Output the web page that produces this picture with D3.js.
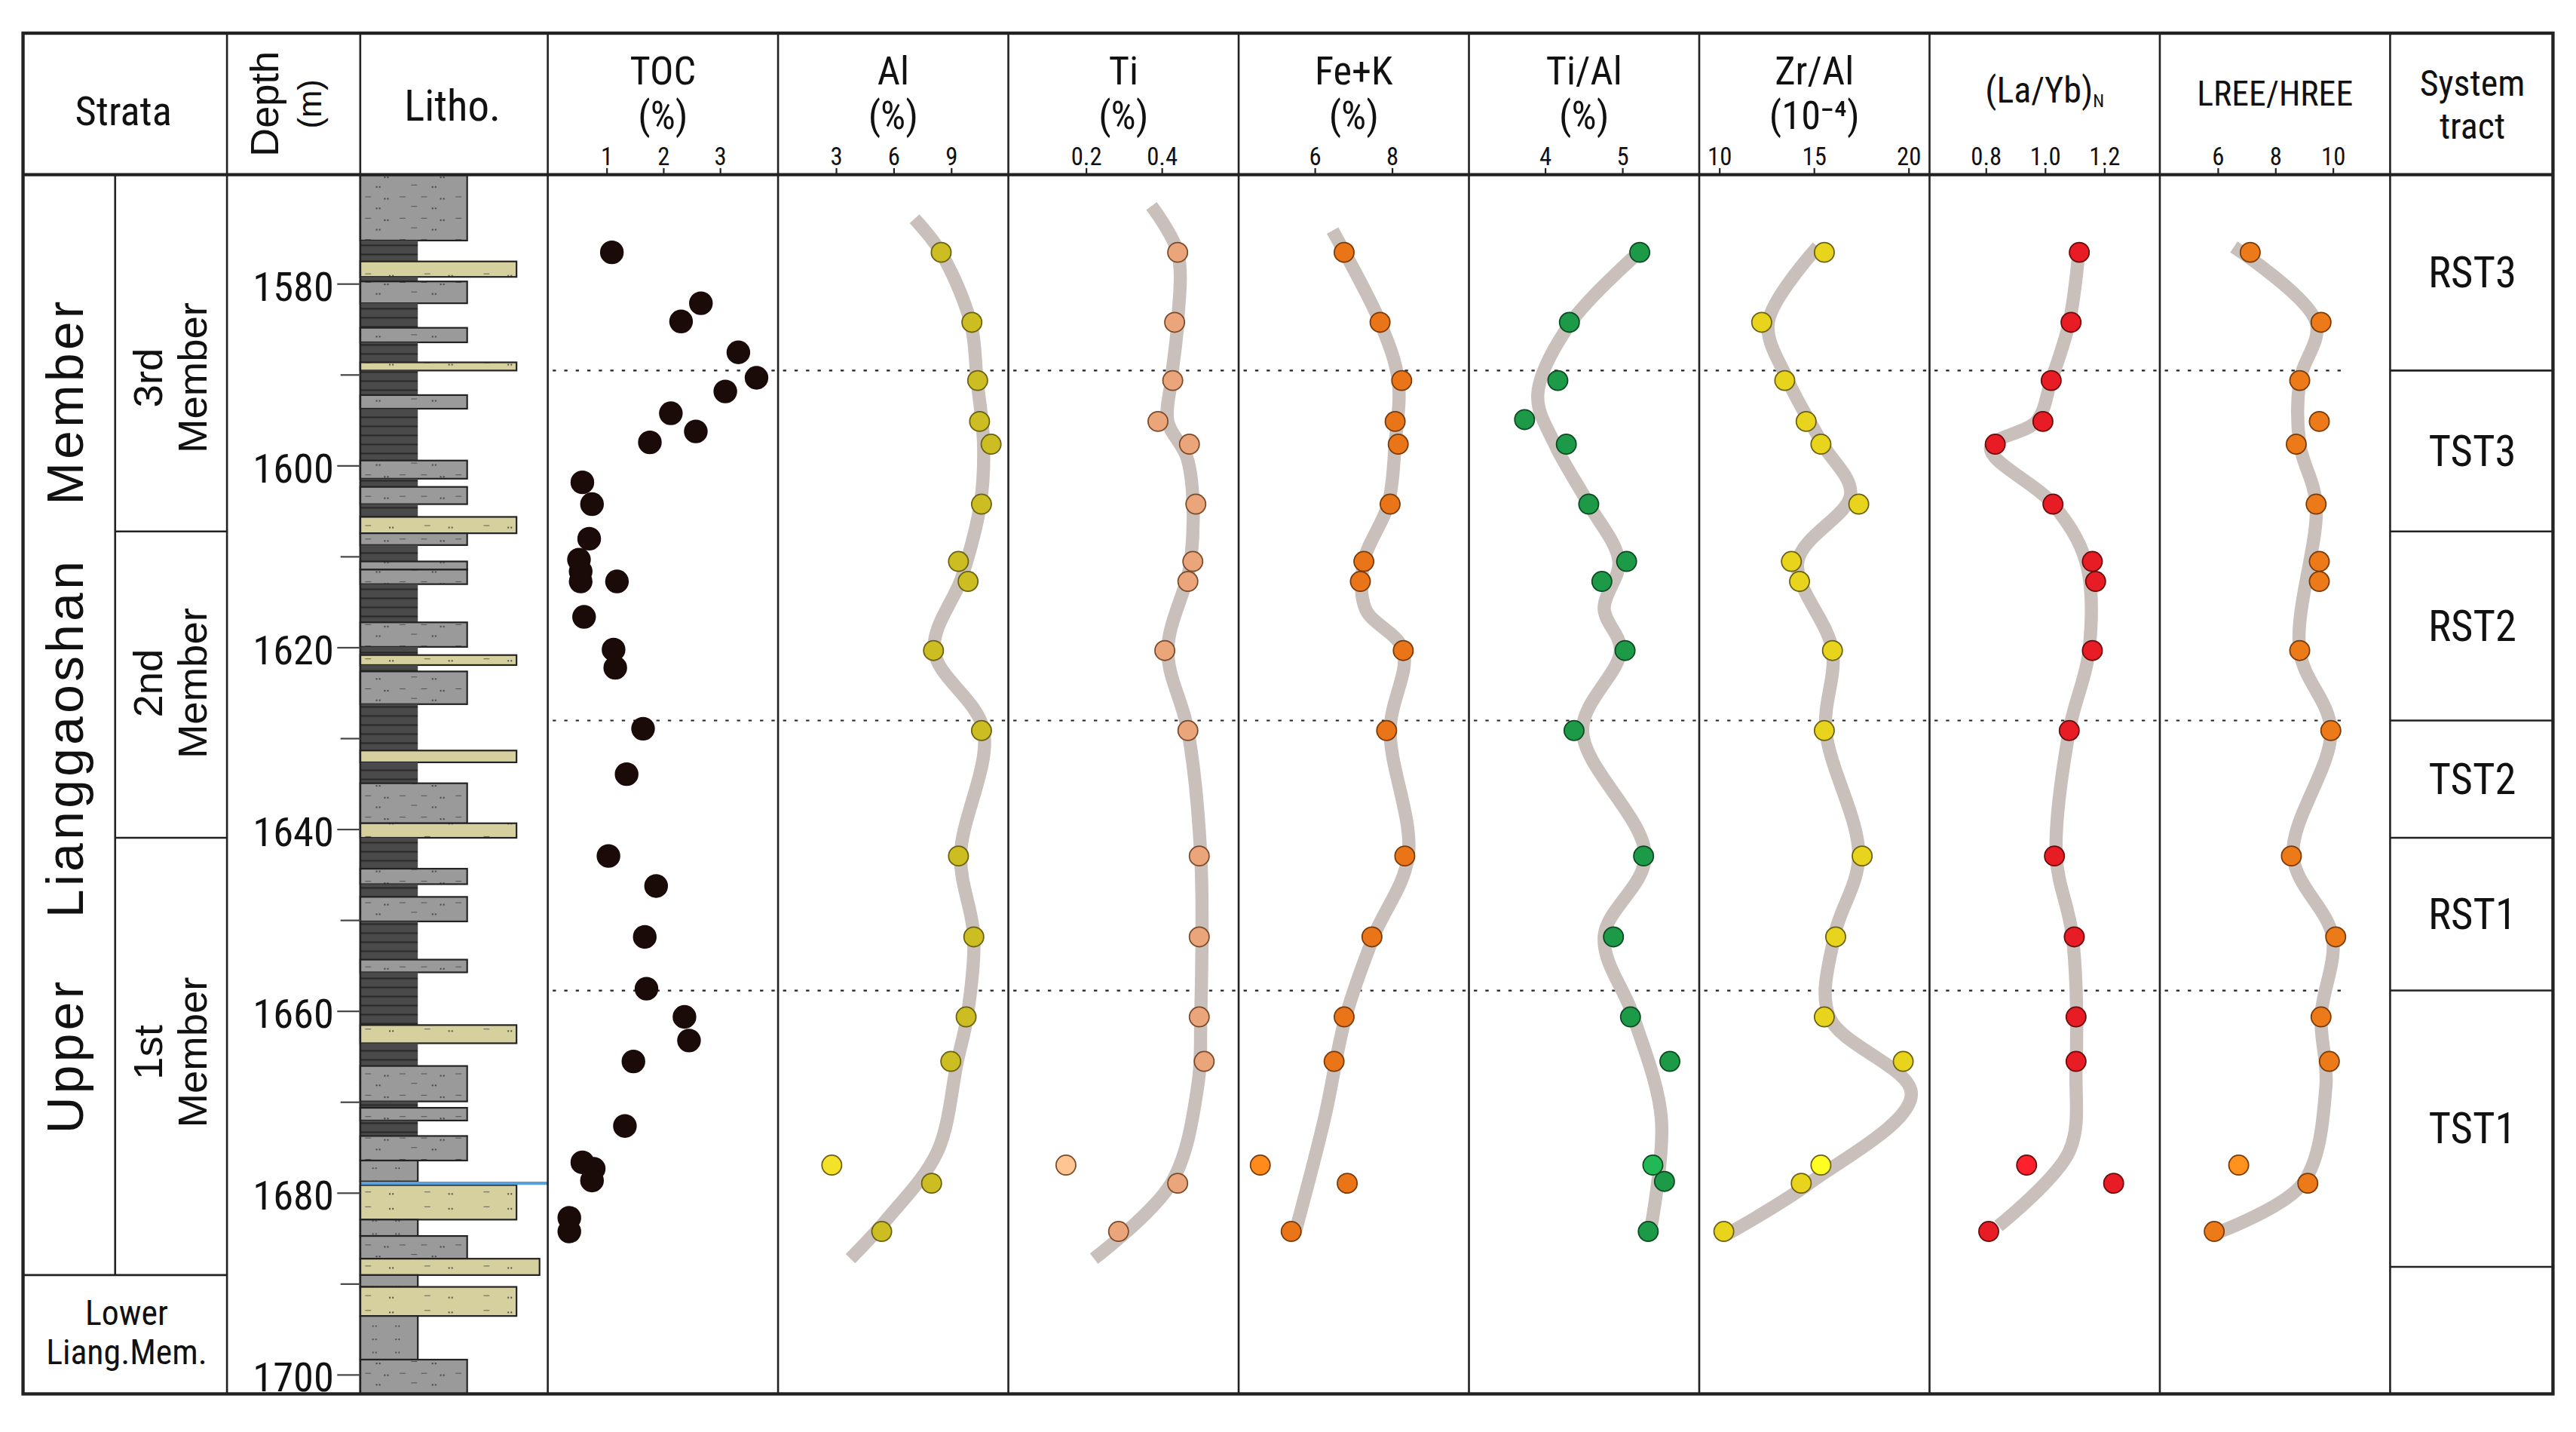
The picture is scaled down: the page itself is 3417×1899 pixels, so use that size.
<!DOCTYPE html>
<html><head><meta charset="utf-8">
<script src="https://cdn.jsdelivr.net/npm/d3@7"></script>
<style>body{margin:0;background:#fff}svg{display:block}</style>
</head><body>
<svg id="c" width="3417" height="1899" viewBox="0 0 1566 870"></svg>
<script>
// ---------- data ----------
const sampleDepths=[1576.6,1584.3,1590.7,1595.2,1597.7,1604.3,1610.6,1612.8,1620.4,1629.2,1643.0,1651.9,1660.7,1665.6,1677.0,1679.0,1684.3];
const alVals=[8.5,10.1,10.4,10.5,11.1,10.6,9.4,9.9,8.1,10.6,9.4,10.2,9.8,9.0,2.8,8.0,5.4];
const tiVals=[0.443,0.435,0.43,0.391,0.474,0.491,0.483,0.47,0.409,0.47,0.5,0.5,0.5,0.513,0.148,0.443,0.287];
const fekVals=[6.77,7.70,8.26,8.09,8.17,7.96,7.28,7.19,8.30,7.87,8.34,7.49,6.77,6.51,4.60,6.85,5.40];
const tialDepths=[1576.6,1584.3,1590.7,1595.0,1597.7,1604.3,1610.6,1612.8,1620.4,1629.2,1643.0,1651.9,1660.7,1665.6,1677.0,1678.8,1684.3];
const tialVals=[5.23,4.32,4.17,3.74,4.28,4.57,5.06,4.74,5.04,4.38,5.28,4.89,5.11,5.62,5.40,5.55,5.34];
const zralVals=[15.57,12.26,13.48,14.61,15.39,17.39,13.83,14.26,16.0,15.57,17.57,16.17,15.57,19.74,15.39,14.35,10.26];
const laybVals=[1.117,1.089,1.022,0.994,0.833,1.028,1.161,1.172,1.161,1.083,1.033,1.1,1.106,1.106,0.939,1.233,0.811];
const lreeVals=[7.14,9.6,8.86,9.54,8.74,9.43,9.54,9.54,8.86,9.94,8.57,10.11,9.6,9.89,6.74,9.14,5.89];

const tocDepths=[1576.6,1582.2,1584.2,1587.6,1590.4,1591.9,1594.3,1596.3,1597.5,1601.9,1604.3,1608.1,1610.4,1611.7,1612.8,1612.8,1616.7,1620.3,1622.3,1629.0,1634.0,1643.0,1646.3,1651.9,1657.6,1660.7,1663.3,1665.6,1672.7,1676.7,1677.4,1678.7,1682.8,1684.3];
const tocVals=[1.10,2.67,2.32,3.33,3.65,3.10,2.14,2.58,1.77,0.58,0.75,0.70,0.52,0.55,0.55,1.19,0.61,1.13,1.16,1.65,1.36,1.04,1.88,1.68,1.71,2.38,2.46,1.48,1.33,0.58,0.78,0.75,0.35,0.35];

const alTrendD=[1572.9,1576.6,1584.3,1590.7,1597.7,1604.3,1612.2,1620.4,1629.2,1643.0,1651.9,1660.7,1665.6,1675.5,1682.8,1687.3];
const alTrendV=[7.11,8.48,10.03,10.37,10.71,10.54,9.60,8.14,10.71,9.51,10.20,9.85,9.34,8.31,5.74,3.77];
const tiTrendD=[1571.5,1576.6,1584.3,1590.7,1595.2,1599.5,1610.4,1620.4,1629.2,1643.0,1660.7,1668.3,1679.0,1687.3];
const tiTrendV=[0.374,0.443,0.443,0.426,0.417,0.470,0.478,0.417,0.470,0.504,0.504,0.496,0.426,0.222];
const fekTrendD=[1574.2,1584.3,1590.7,1597.7,1604.3,1610.6,1615.8,1620.4,1629.2,1643.0,1651.9,1660.7,1671.9,1684.6];
const fekTrendV=[6.47,7.70,8.17,8.09,7.91,7.28,7.32,8.30,7.96,8.43,7.53,6.81,6.26,5.49];
const tialTrendD=[1576.0,1584.3,1592.3,1597.7,1604.3,1610.6,1615.8,1620.4,1629.2,1643.0,1651.9,1660.7,1671.9,1684.6];
const tialTrendV=[5.30,4.34,3.91,4.13,4.57,4.96,4.77,4.98,4.49,5.30,4.77,5.15,5.51,5.36];
const zralTrendD=[1576.0,1584.3,1590.7,1597.7,1603.2,1610.6,1620.4,1629.2,1643.0,1651.9,1660.7,1669.2,1679.0,1684.6];
const zralTrendV=[15.22,12.61,13.65,15.48,16.96,14.17,16.0,15.65,17.39,16.09,15.83,20.17,14.78,10.43];
const laybTrendD=[1576.0,1584.3,1590.7,1595.2,1598.1,1604.3,1610.6,1620.4,1629.2,1643.0,1651.9,1666.5,1675.5,1683.7];
const laybTrendV=[1.117,1.083,1.022,0.972,0.817,1.028,1.139,1.15,1.083,1.039,1.094,1.106,1.083,0.844];
const lreeTrendD=[1576.0,1584.3,1590.7,1597.7,1604.3,1620.4,1629.2,1643.0,1651.9,1660.7,1668.3,1679.0,1684.3];
const lreeTrendV=[6.57,9.43,8.86,8.86,9.43,8.86,9.94,8.63,10.0,9.6,9.77,8.97,6.11];

const columnTitles=[["TOC","(%)"],["Al","(%)"],["Ti","(%)"],["Fe+K","(%)"],["Ti/Al","(%)"],["Zr/Al","(10⁻⁴)"],["(La/Yb)N",""],["LREE/HREE",""]];
const tickLabels=[[1,2,3],[3,6,9],[0.2,0.4],[6,8],[4,5],[10,15,20],[0.8,1.0,1.2],[6,8,10]];
const tickText=[["1","2","3"],["3","6","9"],["0.2","0.4"],["6","8"],["4","5"],["10","15","20"],["0.8","1.0","1.2"],["6","8","10"]];
const domains=[[-0.03,4.03],[0,12],[-0.004,0.604],[4.04,10.0],[3.02,6.0],[8.96,21.13],[0.611,1.389],[4,12]];

const tracts=["RST3","TST3","RST2","TST2","RST1","TST1",""];
const tractTops=[1568.1,1589.6,1607.3,1628.1,1641.0,1657.8,1688.2];
const tractBottoms=[1589.6,1607.3,1628.1,1641.0,1657.8,1688.2,1702.2];
const dottedDepths=[1589.6,1628.1,1657.8];
const depthTicks=[1580,1600,1620,1640,1660,1680,1700];
const minorTicks=[1590,1610,1630,1650,1670,1690];

// litho: top, bottom, type, grain size
const lithoTop=[1568.1,1575.3,1577.6,1579.3,1579.8,1582.2,1584.9,1586.5,1588.7,1589.6,1592.3,1593.8,1599.5,1601.5,1602.4,1604.3,1605.7,1607.5,1608.8,1610.6,1611.5,1613.1,1617.3,1620.0,1620.9,1622.0,1622.7,1626.3,1631.4,1632.7,1635.0,1639.4,1641.0,1644.4,1646.1,1647.5,1650.2,1654.4,1655.8,1661.6,1663.6,1666.1,1670.0,1670.7,1672.1,1673.8,1676.5,1679.2,1683.0,1684.8,1687.3,1689.1,1690.4,1693.6,1698.4];
const lithoBot=[1575.3,1577.6,1579.3,1579.8,1582.2,1584.9,1586.5,1588.7,1589.6,1592.3,1593.8,1599.5,1601.5,1602.4,1604.3,1605.7,1607.5,1608.8,1610.6,1611.5,1613.1,1617.3,1620.0,1620.9,1622.0,1622.7,1626.3,1631.4,1632.7,1635.0,1639.4,1641.0,1644.4,1646.1,1647.5,1650.2,1654.4,1655.8,1661.6,1663.6,1666.1,1670.0,1670.7,1672.1,1673.8,1676.5,1678.8,1683.0,1684.8,1687.3,1689.1,1690.4,1693.6,1698.4,1702.2];
const lithoType=["silt","mud","sand","mud","silt","mud","silt","mud","sand","mud","silt","mud","silt","mud","silt","mud","sand","silt","mud","silt","silt","mud","silt","mud","sand","mud","silt","mud","sand","mud","silt","sand","mud","silt","mud","silt","mud","silt","mud","sand","mud","silt","mud","silt","mud","silt","siltn","sand","siltn","silt","sandw","siltn","sand","siltn","silt"];
const grain={mud:1,siltn:1,silt:2,sand:3,sandw:3.5};

// ---------- drawing ----------
const svg=d3.select("#c");
const F="'Liberation Sans Narrow','Arial Narrow','Roboto Condensed','Liberation Sans',sans-serif";
const FW="'Liberation Sans',Arial,sans-serif";
const L=14,R=1552,T=20,B=847,HB=106;
const colX=[14,138,219,333,473,613,753,893,1033,1173,1313,1453,1552];
const y=d3.scaleLinear().domain([1580,1700]).range([172,835]);

const defs=svg.append("defs");
const pm=defs.append("pattern").attr("id","mud").attr("width",10).attr("height",5.5).attr("patternUnits","userSpaceOnUse");
pm.append("rect").attr("width",10).attr("height",5.5).attr("fill","#4a4a4a");
pm.append("line").attr("x1",0).attr("x2",10).attr("y1",0.5).attr("y2",0.5).attr("stroke","#2a2a2a").attr("stroke-width",1);
const ps=defs.append("pattern").attr("id","silt").attr("width",34).attr("height",13).attr("patternUnits","userSpaceOnUse");
ps.append("rect").attr("width",34).attr("height",13).attr("fill","#9a9a9a");
[[5,4,"–"],[18,4,"–"],[29,4,"‥"],[12,10,"–"],[24,10,"‥"]].forEach(p=>ps.append("text").attr("x",p[0]).attr("y",p[1]).attr("font-size",7).attr("fill","#333").text(p[2]));
const pd=defs.append("pattern").attr("id","sand").attr("width",36).attr("height",9).attr("patternUnits","userSpaceOnUse");
pd.append("rect").attr("width",36).attr("height",9).attr("fill","#d6cf9e");
[[6,6,"–"],[20,6,"‥"]].forEach(p=>pd.append("text").attr("x",p[0]).attr("y",p[1]).attr("font-size",7).attr("fill","#333").text(p[2]));
const pn=defs.append("pattern").attr("id","siltn").attr("width",14).attr("height",8).attr("patternUnits","userSpaceOnUse");
pn.append("rect").attr("width",14).attr("height",8).attr("fill","#9a9a9a");
pn.append("text").attr("x",2).attr("y",6).attr("font-size",7).attr("fill","#444").text("‥");

const gx=d3.scaleLinear().domain([0,1,2,3,3.5]).range([219,254,284,314,328]);
const litho=svg.append("g");
lithoType.forEach((t,i)=>{
  const fill=t==="mud"?"url(#mud)":t==="sand"||t==="sandw"?"url(#sand)":t==="siltn"?"url(#siltn)":"url(#silt)";
  litho.append("rect").attr("x",gx(0)).attr("y",y(lithoTop[i])).attr("width",gx(grain[t])-gx(0))
   .attr("height",y(lithoBot[i])-y(lithoTop[i])).attr("fill",fill).attr("stroke","#222").attr("stroke-width",t==="mud"?0:1);
});
litho.append("line").attr("x1",219).attr("x2",333).attr("y1",y(1679.0)).attr("y2",y(1679.0)).attr("stroke","#5aa0d8").attr("stroke-width",2);

const g=svg.append("g").attr("fill","none").attr("stroke","#222");
g.append("rect").attr("x",L).attr("y",T).attr("width",R-L).attr("height",B-T).attr("stroke-width",2);
g.append("line").attr("x1",L).attr("x2",R).attr("y1",HB).attr("y2",HB).attr("stroke-width",2);
colX.slice(1,-1).forEach(x=>g.append("line").attr("x1",x).attr("x2",x).attr("y1",T).attr("y2",B).attr("stroke-width",1.2));
g.append("line").attr("x1",70).attr("x2",70).attr("y1",HB).attr("y2",y(1689.1)).attr("stroke-width",1.2);
[1607.3,1641.0].forEach(d=>g.append("line").attr("x1",70).attr("x2",138).attr("y1",y(d)).attr("y2",y(d)).attr("stroke-width",1.2));
g.append("line").attr("x1",14).attr("x2",138).attr("y1",y(1689.1)).attr("y2",y(1689.1)).attr("stroke-width",1.2);
tractTops.slice(1).forEach(d=>g.append("line").attr("x1",1453).attr("x2",1552).attr("y1",y(d)).attr("y2",y(d)).attr("stroke-width",1.2));
dottedDepths.forEach(d=>g.append("line").attr("x1",336).attr("x2",1428).attr("y1",y(d)).attr("y2",y(d)).attr("stroke-width",1).attr("stroke-dasharray","2,5"));

const txt=(x,yy,s,size,fam,rot)=>{const t=svg.append("text").attr("x",x).attr("y",yy).attr("font-size",size).attr("font-family",fam||F).attr("fill","#111").attr("text-anchor","middle").text(s); if(rot) t.attr("transform",`rotate(-90,${x},${yy})`); return t;};
txt(75,76,"Strata",25,F);
txt(163,63,"Depth",24,FW,true).attr("dominant-baseline","middle");
txt(190,63,"(m)",20,FW,true).attr("dominant-baseline","middle");
txt(275,73,"Litho.",26,F);
txt(1503,58,"System",22,F);txt(1503,84,"tract",22,F);

const axisG=svg.append("g").attr("transform","translate(219,0)")
 .call(d3.axisLeft(y).tickValues(depthTicks).tickSize(14).tickPadding(2).tickFormat(d3.format("d")));
axisG.select(".domain").remove();
axisG.selectAll("text").attr("font-size",25).attr("font-family",F).attr("fill","#111").attr("dy","0.4em");
axisG.selectAll("line").attr("stroke","#444");
const minG=svg.append("g").attr("transform","translate(219,0)").call(d3.axisLeft(y).tickValues(minorTicks).tickSize(12).tickFormat(""));
minG.select(".domain").remove(); minG.selectAll("line").attr("stroke","#444");

[["Upper",1665],["Lianggaoshan",1630],["Member",1593]].forEach(p=>txt(42,y(p[1]),p[0],31,FW,true).attr("dominant-baseline","middle").attr("letter-spacing",2));
[["3rd","Member",1590.4],["2nd","Member",1624.0],["1st","Member",1664.6]].forEach(p=>{
  txt(92,y(p[2]),p[0],25,FW,true).attr("dominant-baseline","middle");
  txt(119,y(p[2]),p[1],25,FW,true).attr("dominant-baseline","middle");});
txt(77,805,"Lower",21,F);txt(77,829,"Liang.Mem.",21,F);

tracts.forEach((t,i)=>{ if(t) txt(1503,(y(tractTops[i])+y(tractBottoms[i]))/2+9,t,26,F);});

const series=[
 {d:tocDepths,v:tocVals,fill:"#1a0a08",stroke:"#1a0a08",r:6.8},
 {d:sampleDepths,v:alVals,fill:"#cbbd22",stroke:"#6a6010",td:alTrendD,tv:alTrendV},
 {d:sampleDepths,v:tiVals,fill:"#eba57a",stroke:"#7a4a2a",td:tiTrendD,tv:tiTrendV},
 {d:sampleDepths,v:fekVals,fill:"#ea7418",stroke:"#7a3a08",td:fekTrendD,tv:fekTrendV},
 {d:tialDepths,v:tialVals,fill:"#1d9a48",stroke:"#0a4a20",td:tialTrendD,tv:tialTrendV},
 {d:sampleDepths,v:zralVals,fill:"#e8d41c",stroke:"#6a6010",td:zralTrendD,tv:zralTrendV},
 {d:sampleDepths,v:laybVals,fill:"#e81c24",stroke:"#6a0a0a",td:laybTrendD,tv:laybTrendV},
 {d:sampleDepths,v:lreeVals,fill:"#ec7a18",stroke:"#7a3a08",td:lreeTrendD,tv:lreeTrendV}
];
series.forEach((s,i)=>{
  const x0=colX[3+i], x1=colX[4+i];
  const x=d3.scaleLinear().domain(domains[i]).range([x0,x1]);
  const cx=(x0+x1)/2;
  const t=columnTitles[i];
  if(t[0]==="(La/Yb)N"){ const tt=txt(cx,62,"(La/Yb)",22,F); tt.append("tspan").attr("font-size",11).attr("dy",3).text("N"); }
  else if(t[1]===""){ txt(cx,64,t[0],21,F); }
  else { txt(cx,51,t[0],24,F); txt(cx,78,t[1],24,F); }
  const ax=svg.append("g").attr("transform",`translate(0,${HB})`).call(d3.axisTop(x).tickValues(tickLabels[i]).tickSize(4).tickPadding(2).tickFormat((d,j)=>tickText[i][j]));
  ax.select(".domain").remove();
  ax.selectAll("text").attr("font-size",15).attr("font-family",F).attr("fill","#111");
  ax.selectAll("line").attr("stroke","#222");
  if(s.td){
    const pts=s.td.map((d,j)=>[x(s.tv[j]),y(d)]);
    svg.append("path").attr("d",d3.line().curve(d3.curveCatmullRom.alpha(0.5))(pts))
      .attr("fill","none").attr("stroke","#c9c0bb").attr("stroke-width",8).attr("stroke-linecap","butt");
  }
  svg.append("g").selectAll("circle").data(s.v).join("circle")
    .attr("cx",v=>x(v)).attr("cy",(v,j)=>y(s.d[j])).attr("r",s.r||6)
    .attr("fill",(v,j)=>(s.td&&s.d[j]===1677.0)?d3.color(s.fill).brighter(0.5):s.fill)
    .attr("stroke",s.stroke).attr("stroke-width",0.8);
});
</script>
</body></html>
